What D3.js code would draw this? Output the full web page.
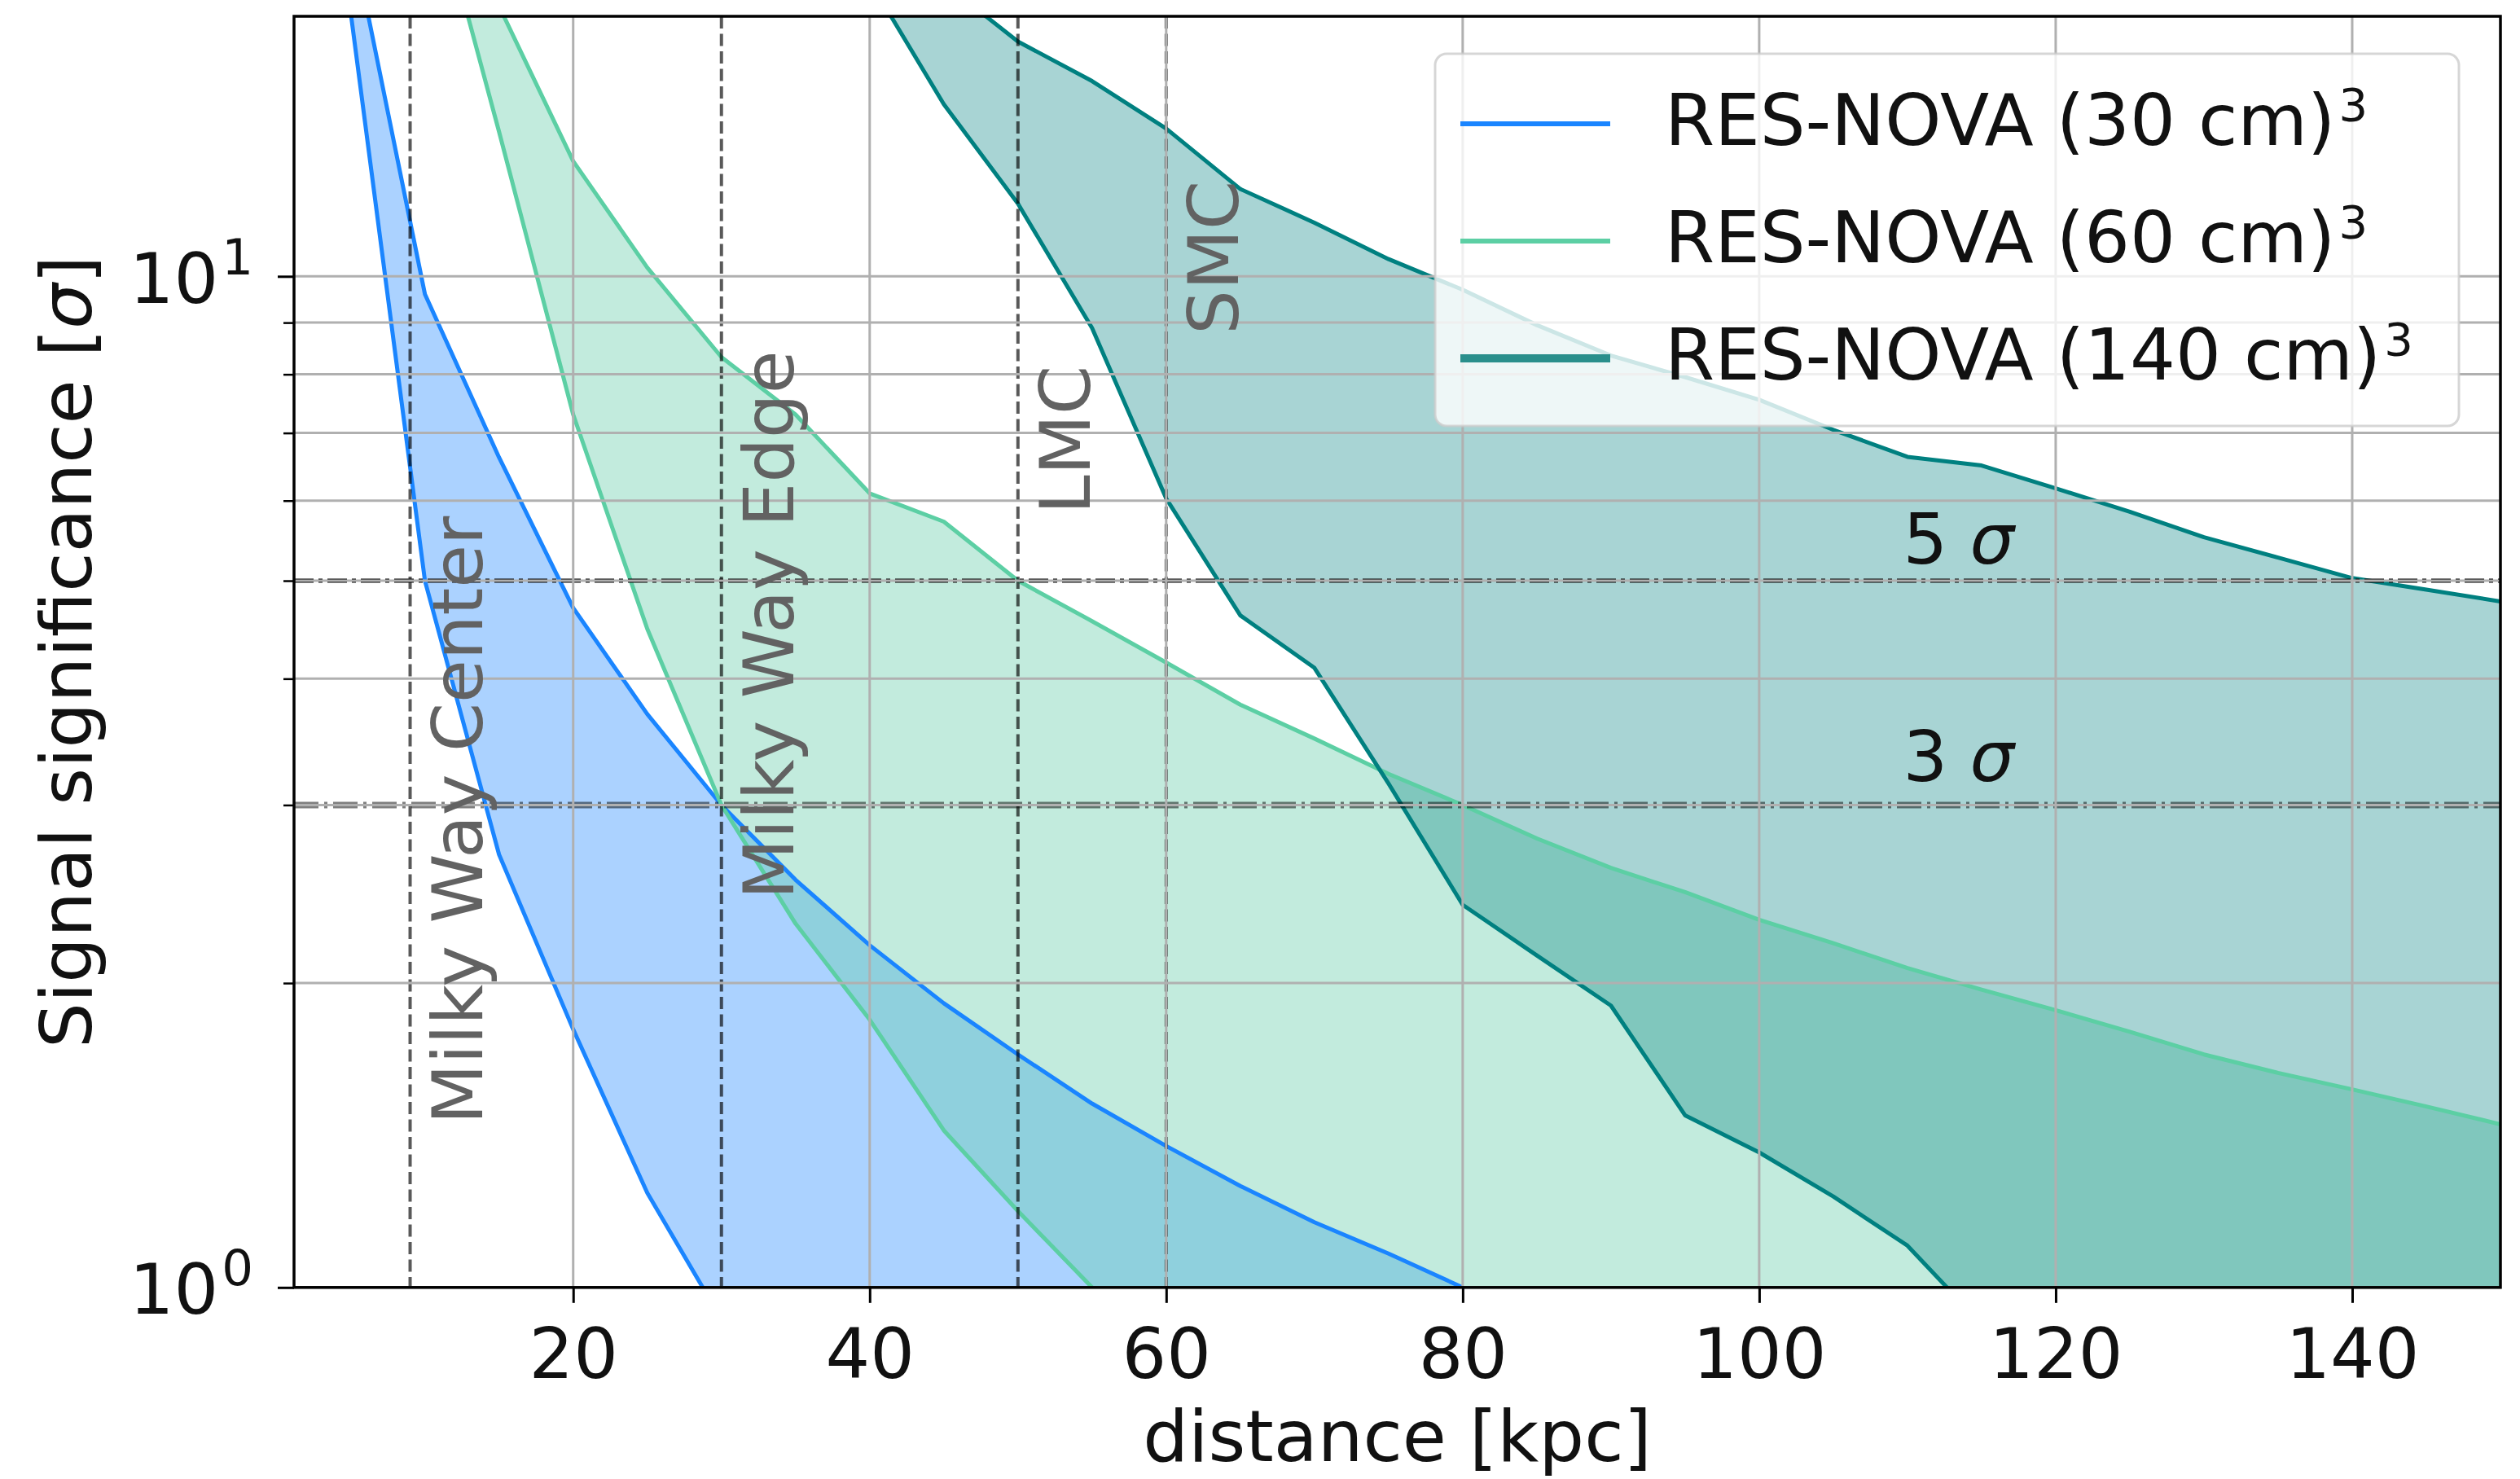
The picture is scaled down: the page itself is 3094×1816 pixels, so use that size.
<!DOCTYPE html>
<html><head><meta charset="utf-8">
<script src="https://cdn.jsdelivr.net/npm/d3@7"></script>
<style>
body{margin:0;background:#fff}
svg text{font-family:"DejaVu Sans",sans-serif}
</style>
</head><body>
<svg id="chart" width="3094" height="1816"></svg>
<script>
// ---------------- data ----------------
const distance = [5,10,15,20,25,30,35,40,45,50,55,60,65,70,75,80,85,90,95,100,105,110,115,120,125,130,135,140,145,150];
const lower30  = [18.2,5.0,2.68,1.80,1.24,0.93,null,null,null,null,null,null,null,null,null,null,null,null,null,null,null,null,null,null,null,null,null,null,null,null];
const upper30  = [22,9.6,6.62,4.70,3.69,3.0,2.53,2.18,1.91,1.70,1.52,1.38,1.26,1.16,1.08,1.0,null,null,null,null,null,null,null,null,null,null,null,null,null,null];
const lower60  = [null,26,13.9,7.3,4.48,3.0,2.29,1.84,1.43,1.19,1.0,null,null,null,null,null,null,null,null,null,null,null,null,null,null,null,null,null,null,null];
const upper60  = [null,34,18.5,13.0,10.2,8.32,7.3,6.1,5.72,5.0,4.56,4.15,3.77,3.49,3.22,3.0,2.78,2.60,2.46,2.31,2.19,2.07,1.97,1.88,1.79,1.70,1.63,1.57,1.51,1.45];
const lower140 = [null,null,null,null,null,null,null,19.6,14.8,11.8,8.89,6.03,4.62,4.1,3.15,2.39,2.13,1.90,1.48,1.36,1.23,1.10,0.92,null,null,null,null,null,null,null];
const upper140 = [null,null,null,null,null,null,null,24,19.5,17.07,15.6,14.0,12.2,11.3,10.4,9.7,8.95,8.35,7.95,7.55,7.05,6.63,6.5,6.17,5.85,5.52,5.27,5.03,4.9,4.77];

const seriesNames = ["RES-NOVA (30 cm)", "RES-NOVA (60 cm)", "RES-NOVA (140 cm)"];
const xTicks = [20,40,60,80,100,120,140];
const yMajorTicks = [1,10];
const yMinorTicks = [2,3,4,5,6,7,8,9];
const markerDistances = [9,30,50,60];
const markerLabels = ["Milky Way Center","Milky Way Edge","LMC","SMC"];
const markerLabelHeights = [1.45,2.42,5.82,8.76];
const thresholds = [5,3];
const thresholdLabels = ["5","3"];
const thresholdLabelHeights = [5.2,3.17];

// ---------------- layout / style ----------------
const L = 361, R = 3070, T = 20, B = 1580.8;
const FS = 86, FSL = 88;
const lineColors = ["#1a85ff", "#5ccfa4", "#008080"];
const fillColors = ["#1a85ff", "#66cdaa", "#008080"];
const fillAlpha = [0.37, 0.4, 0.34];

const svg = d3.select("#chart");
const x = d3.scaleLinear().domain([1.17,150]).range([L,R]);
const y = d3.scaleLog().domain([1,18.08]).range([B,T]);

svg.append("defs").append("clipPath").attr("id","clip")
  .append("rect").attr("x",L).attr("y",T).attr("width",R-L).attr("height",B-T);

const plot = svg.append("g").attr("clip-path","url(#clip)");
const idx = d3.range(distance.length);
const bands = [[lower30,upper30],[lower60,upper60],[lower140,upper140]];

// fills
bands.forEach(([lo,up],k)=>{
  const area = d3.area()
    .defined(i=>up[i]!=null)
    .x(i=>x(distance[i]))
    .y1(i=>y(up[i]))
    .y0(i=>lo[i]!=null ? y(lo[i]) : B+5);
  plot.append("path").attr("d",area(idx))
    .attr("fill",fillColors[k]).attr("fill-opacity",fillAlpha[k]);
});

// grid
const grid = svg.append("g").attr("stroke","#b0b0b0").attr("stroke-width",3);
xTicks.forEach(v=>grid.append("line").attr("x1",x(v)).attr("x2",x(v)).attr("y1",T).attr("y2",B));
yMajorTicks.concat(yMinorTicks).forEach(v=>grid.append("line").attr("x1",L).attr("x2",R).attr("y1",y(v)).attr("y2",y(v)));

// curves
bands.forEach(([lo,up],k)=>{
  [lo,up].forEach(arr=>{
    const line = d3.line().defined(i=>arr[i]!=null).x(i=>x(distance[i])).y(i=>y(arr[i]));
    plot.append("path").attr("d",line(idx)).attr("fill","none")
      .attr("stroke",lineColors[k]).attr("stroke-width",5).attr("stroke-linejoin","round");
  });
});

// vertical marker lines
markerDistances.forEach(v=>{
  plot.append("line").attr("x1",x(v)).attr("x2",x(v)).attr("y1",T).attr("y2",B)
    .attr("stroke","#000").attr("stroke-opacity",0.65).attr("stroke-width",4)
    .attr("stroke-dasharray","15,6.5");
});

// threshold lines
plot.append("line").attr("x1",L).attr("x2",R).attr("y1",y(thresholds[0])).attr("y2",y(thresholds[0]))
  .attr("stroke","#000").attr("stroke-width",5).attr("stroke-dasharray","24,6,5,6");
plot.append("line").attr("x1",L).attr("x2",R).attr("y1",y(thresholds[1])).attr("y2",y(thresholds[1]))
  .attr("stroke","#000").attr("stroke-opacity",0.5).attr("stroke-width",8).attr("stroke-dasharray","30,7,4,7");

// marker labels
markerDistances.forEach((v,i)=>{
  svg.append("text")
    .attr("transform",`translate(${x(v+1)+70},${y(markerLabelHeights[i])}) rotate(-90)`)
    .attr("font-size",FS).attr("fill","#626262").text(markerLabels[i]);
});

// threshold labels
thresholds.forEach((t,i)=>{
  const tx = svg.append("text").attr("x",x(109.7)).attr("y",y(thresholdLabelHeights[i]))
    .attr("font-size",FS).attr("fill","#111");
  tx.append("tspan").text(thresholdLabels[i]+" ");
  tx.append("tspan").attr("font-style","italic").text("σ");
});

// axes
const xAxis = svg.append("g").attr("transform",`translate(0,${B})`)
  .call(d3.axisBottom(x).tickValues(xTicks).tickSize(19).tickPadding(31).tickFormat(d=>d));
xAxis.select(".domain").remove();
xAxis.selectAll("line").attr("stroke","#000").attr("stroke-width",3);
xAxis.selectAll("text").attr("font-size",FS).attr("fill","#111").attr("font-family","DejaVu Sans");

const yAxis = svg.append("g").attr("transform",`translate(${L},0)`)
  .call(d3.axisLeft(y).tickValues(yMajorTicks).tickSize(20).tickPadding(30).tickFormat(()=>""));
yAxis.select(".domain").remove();
yAxis.selectAll("line").attr("stroke","#000").attr("stroke-width",3);
yAxis.selectAll("text").each(function(d){
  const t = d3.select(this).attr("font-size",FS).attr("fill","#111").attr("dy","0.37em")
    .attr("font-family","DejaVu Sans");
  t.append("tspan").text("10");
  t.append("tspan").attr("font-size",61).attr("dy",-35).attr("dx",4).text(Math.round(Math.log10(d)));
});
const yMinor = svg.append("g").attr("transform",`translate(${L},0)`)
  .call(d3.axisLeft(y).tickValues(yMinorTicks).tickSize(13).tickFormat(()=>""));
yMinor.select(".domain").remove();
yMinor.selectAll("line").attr("stroke","#000").attr("stroke-width",2.5);

// spines
svg.append("rect").attr("x",L).attr("y",T).attr("width",R-L).attr("height",B-T)
  .attr("fill","none").attr("stroke","#000").attr("stroke-width",3.5);

// axis labels
svg.append("text").attr("x",(L+R)/2).attr("y",1794).attr("text-anchor","middle")
  .attr("font-size",FSL).attr("fill","#111").text("distance [kpc]");
const yl = svg.append("text").attr("transform",`translate(112,${(T+B)/2}) rotate(-90)`)
  .attr("text-anchor","middle").attr("font-size",FSL).attr("fill","#111");
yl.append("tspan").text("Signal significance [");
yl.append("tspan").attr("font-style","italic").text("σ");
yl.append("tspan").text("]");

// legend
const lg = svg.append("g").attr("transform","translate(1762,66)");
lg.append("rect").attr("width",1257).attr("height",457).attr("rx",14)
  .attr("fill","#fff").attr("fill-opacity",0.8).attr("stroke","#cccccc").attr("stroke-opacity",0.8).attr("stroke-width",3);
const legendLineWidths = [6,6,10];
const legendLineColors = ["#1a85ff","#5ccfa4","#2a8f8c"];
seriesNames.forEach((name,i)=>{
  const cy = 86 + i*144;
  lg.append("line").attr("x1",31).attr("x2",215).attr("y1",cy).attr("y2",cy)
    .attr("stroke",legendLineColors[i]).attr("stroke-width",legendLineWidths[i]);
  const t = lg.append("text").attr("x",282).attr("y",cy+26).attr("font-size",FSL).attr("fill","#111");
  t.append("tspan").text(name);
  t.append("tspan").attr("font-size",56).attr("dy",-30).attr("dx",4).text("3");
});
</script>
</body></html>
